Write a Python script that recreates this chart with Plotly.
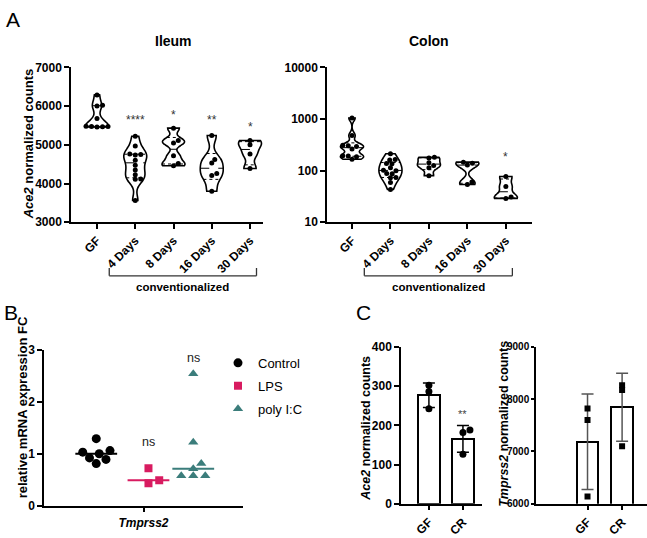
import numpy as np
import plotly.graph_objects as go

# ---------------- data ----------------
groups = ["GF", "4 Days", "8 Days", "16 Days", "30 Days"]

ileum_gf = [6290, 6020, 6000, 5680, 5480, 5475, 5470, 5465, 5460]
ileum_d4 = [5220, 4970, 4760, 4750, 4740, 4600, 4470, 4350, 4230, 4120, 4110, 3560]
ileum_d8 = [5430, 5110, 5050, 4720, 4520, 4460]
ileum_d16 = [5240, 4620, 4530, 4260, 4210, 3800]
ileum_d30 = [5110, 5000, 4760, 4390]
ileum_values = [ileum_gf, ileum_d4, ileum_d8, ileum_d16, ileum_d30]
ileum_bandwidth = [130, 160, 100, 180, 130]
ileum_stars = ["", "****", "*", "**", "*"]
ileum_star_y = [None, 5640, 5760, 5640, 5460]

colon_gf = [1047, 479, 309, 302, 295, 263, 195, 191, 186, 166]
colon_d4 = [212, 165, 161, 138, 136, 114, 102, 100, 88, 87, 74, 73, 59, 43]
colon_d8 = [181, 176, 142, 126, 114, 80]
colon_d16 = [146, 139, 128, 60, 54]
colon_d30 = [77, 49, 31, 29]
colon_values = [colon_gf, colon_d4, colon_d8, colon_d16, colon_d30]
colon_bandwidth = [0.06, 0.12, 0.06, 0.08, 0.08]   # in log10 units
colon_stars = ["", "", "", "", "*"]
colon_star_y = [None, None, None, None, 185]
colon_ticks = [10, 100, 1000, 10000]

b_labels = ["Control", "LPS", "poly I:C"]
b_control = [1.0, 0.81, 1.29, 1.03, 0.89, 1.06, 0.92]
b_lps = [0.72, 0.43, 0.49]
b_polyic = [2.54, 1.22, 0.81, 0.71, 0.575, 0.575, 0.575]
b_values = [b_control, b_lps, b_polyic]
b_ns_text = ["", "ns", "ns"]
b_ns_y = [None, 1.22, 2.84]
b_gene = "Tmprss2"

c_groups = ["GF", "CR"]
c_ace2 = [[302, 286, 242], [188, 182, 126]]
c_tmprss2 = [[7820, 7602, 6137], [8267, 8174, 7099]]
c_ace2_stars = ["", "**"]
c_ace2_star_y = [None, 229]

# ---------------- style / layout ----------------
W, H = 647, 538
FONT = "Liberation Sans, Arial, sans-serif"
B_COLORS = ["#000000", "#d81b60", "#3b7d7b"]
B_SYMBOLS = ["circle", "square", "triangle-up"]
B_SIZES = [9, 8, 9]
B_POS = [-0.95, 0.1, 1.0]
B_MED_HALF = 0.42
VIOLIN_W = 0.6


def px_x(px):
    return px / W


def px_y(py):
    return 1 - py / H


panels = {
    "ileum": dict(n=1, x0=71, x1=263, yt=62, yb=221, xr=[-0.68, 4.34], yr=[3000, 7000]),
    "colon": dict(n=2, x0=327, x1=532, yt=62, yb=221, xr=[-0.65, 4.68], yr=[1, 4]),
    "b": dict(n=3, x0=44, x1=243, yt=352, yb=512, xr=[-2, 2], yr=[0, 3]),
    "ace2": dict(n=4, x0=401, x1=482, yt=349, yb=510, xr=[-0.82, 1.56], yr=[0, 400]),
    "tmp": dict(n=5, x0=536, x1=647, yt=349, yb=510, xr=[-1.49, 1.72], yr=[6000, 9000]),
}
for p in panels.values():
    p["sx"] = (p["x1"] - p["x0"]) / (p["xr"][1] - p["xr"][0])
    p["sy"] = (p["yb"] - p["yt"]) / (p["yr"][1] - p["yr"][0])


def ax_names(p):
    n = p["n"]
    return ("x" if n == 1 else f"x{n}"), ("y" if n == 1 else f"y{n}")


def swarm(vals, p, dx, dy):
    """beeswarm offsets (in x data units) computed in pixel space"""
    vals = np.asarray(vals, float)
    order = np.argsort(vals)
    steps = np.arange(0, 80, 0.25)
    cands = np.column_stack([steps, -steps]).ravel()[1:]
    placed = []
    offs = np.zeros(len(vals))
    for i in order:
        y = vals[i] * p["sy"]
        chosen = 0.0
        for c in cands:
            if all(((c - px) / dx) ** 2 + ((y - py) / dy) ** 2 >= 1 for px, py in placed):
                chosen = c
                break
        offs[i] = chosen
        placed.append((chosen, y))
    return offs / p["sx"]


def kde_halfwidth(vals, bw, width, at):
    v = np.asarray(vals, float)
    lo, hi = v.min(), v.max()
    n = int(np.ceil((hi - lo) / (bw / 3)))
    step = (hi - lo) / n
    t = lo + step * np.arange(n + 1)

    def kde(x):
        x = np.atleast_1d(np.asarray(x, float))
        return np.exp(-0.5 * ((x[:, None] - v[None, :]) / bw) ** 2).sum(1) / (len(v) * bw * np.sqrt(2 * np.pi))

    return kde(at) / kde(t).max() * width / 2


fig = go.Figure()


def add_violins(p, values, bws, transform):
    xa, ya = ax_names(p)
    for i, (vals, bw) in enumerate(zip(values, bws)):
        v = transform(np.asarray(vals, float))
        fig.add_trace(go.Violin(
            x0=i, y=v, xaxis=xa, yaxis=ya, width=VIOLIN_W, bandwidth=bw,
            spanmode="hard", points=False, line=dict(color="black", width=1.6),
            fillcolor="rgba(0,0,0,0)", showlegend=False, hoverinfo="skip",
            box_visible=False, meanline_visible=False))
        qs = np.percentile(v, [25, 50, 75], method="weibull")
        hw = kde_halfwidth(v, bw, VIOLIN_W, qs)
        for q, h, dash in zip(qs, hw, ["dot", "dash", "dot"]):
            fig.add_trace(go.Scatter(
                x=[i - h, i + h], y=[q, q], xaxis=xa, yaxis=ya, mode="lines",
                line=dict(color="black", width=1, dash=dash),
                showlegend=False, hoverinfo="skip"))
        offs = swarm(v, p, 5.5, 4.2)
        fig.add_trace(go.Scatter(
            x=i + offs, y=v, xaxis=xa, yaxis=ya, mode="markers",
            marker=dict(color="black", size=5), showlegend=False, hoverinfo="skip"))


add_violins(panels["ileum"], ileum_values, ileum_bandwidth, lambda a: a)
add_violins(panels["colon"], colon_values, colon_bandwidth, np.log10)

# Panel B
pb = panels["b"]
xa, ya = ax_names(pb)
for i, vals in enumerate(b_values):
    v = np.asarray(vals, float)
    med = np.median(v)
    fig.add_trace(go.Scatter(
        x=[B_POS[i] - B_MED_HALF, B_POS[i] + B_MED_HALF], y=[med, med], xaxis=xa, yaxis=ya,
        mode="lines", line=dict(color=B_COLORS[i], width=2), showlegend=False, hoverinfo="skip"))
for i, vals in enumerate(b_values):
    v = np.asarray(vals, float)
    offs = swarm(v, pb, 12, 7)
    fig.add_trace(go.Scatter(
        x=B_POS[i] + offs, y=v, xaxis=xa, yaxis=ya, mode="markers", name=b_labels[i],
        legendgroup=b_labels[i],
        marker=dict(color=B_COLORS[i], size=B_SIZES[i], symbol=B_SYMBOLS[i]),
        showlegend=True, hoverinfo="skip"))

# Panel C
for key, data, symbol, size, ecol in [("ace2", c_ace2, "circle", 7, "black"),
                                       ("tmp", c_tmprss2, "square", 6, "#555555")]:
    p = panels[key]
    xa, ya = ax_names(p)
    means = [float(np.mean(d)) for d in data]
    sds = [float(np.std(d, ddof=1)) for d in data]
    fig.add_trace(go.Bar(
        x=list(range(len(data))), y=means, xaxis=xa, yaxis=ya, width=0.63,
        marker=dict(color="white", line=dict(color="black", width=2)),
        error_y=dict(type="data", array=sds, color=ecol, thickness=1.5, width=6),
        showlegend=False, hoverinfo="skip"))
    for i, d in enumerate(data):
        offs = swarm(d, p, 8, 4.5)
        fig.add_trace(go.Scatter(
            x=i + offs, y=d, xaxis=xa, yaxis=ya, mode="markers",
            marker=dict(color="black", size=size, symbol=symbol),
            showlegend=False, hoverinfo="skip"))

# ---------------- axes ----------------
axis_common = dict(showline=True, linecolor="black", linewidth=1.5, ticks="outside",
                   ticklen=5, tickwidth=1.5, tickcolor="black", showgrid=False,
                   zeroline=False, fixedrange=True,
                   tickfont=dict(family=FONT, size=12, color="black", weight="bold"))
layout_axes = {}
for key, p in panels.items():
    n = p["n"]
    sfx = "" if n == 1 else str(n)
    xa, ya = ax_names(p)
    xd = dict(axis_common, domain=[px_x(p["x0"]), px_x(p["x1"])], range=p["xr"],
              anchor=ya, type="linear")
    yd = dict(axis_common, domain=[px_y(p["yb"]), px_y(p["yt"])], range=p["yr"],
              anchor=xa, type="linear")
    layout_axes["xaxis" + sfx] = xd
    layout_axes["yaxis" + sfx] = yd

for key in ["xaxis", "xaxis2"]:
    layout_axes[key].update(tickvals=list(range(len(groups))), ticktext=groups, tickangle=-45)
layout_axes["yaxis"].update(tickvals=[3000, 4000, 5000, 6000, 7000])
layout_axes["yaxis2"].update(tickvals=list(np.log10(colon_ticks)), ticktext=[str(t) for t in colon_ticks])
layout_axes["xaxis3"].update(tickvals=[0], ticktext=[f"<i>{b_gene}</i>"])
layout_axes["yaxis3"].update(tickvals=[0, 1, 2, 3])
for key in ["xaxis4", "xaxis5"]:
    layout_axes[key].update(tickvals=[0, 1], ticktext=c_groups, tickangle=-45)
layout_axes["yaxis4"].update(tickvals=[0, 100, 200, 300, 400])
layout_axes["yaxis5"].update(tickvals=[6000, 7000, 8000, 9000], ticklen=3,
                             tickfont=dict(family=FONT, size=10, color="black", weight="bold"))

# ---------------- annotations & shapes ----------------
ann = []
shapes = []


def text(x, y, s, size, xref="paper", yref="paper", bold=False, angle=0, color="black",
         xanchor="center", yanchor="middle"):
    ann.append(dict(x=x, y=y, xref=xref, yref=yref, text=s, showarrow=False, textangle=angle,
                    xanchor=xanchor, yanchor=yanchor,
                    font=dict(family=FONT, size=size, color=color,
                              weight="bold" if bold else "normal")))


text(px_x(4), px_y(13), "A", 21, xanchor="left")
text(px_x(2), px_y(314), "B", 21, xanchor="left")
text(px_x(354), px_y(314), "C", 21, xanchor="left")

text(2, px_y(35), "Ileum", 14, xref="x", bold=True)
text(2, px_y(35), "Colon", 14, xref="x2", bold=True)

text(px_x(28), px_y(141), "<i>Ace2</i> normalized counts", 13, bold=True, angle=-90)
text(px_x(22), px_y(411), "relative mRNA expression FC", 13, bold=True, angle=-90)
text(px_x(366), px_y(433), "<i>Ace2</i> normalized counts", 12.5, bold=True, angle=-90)
text(px_x(504), px_y(428), "<i>Tmprss2</i> normalized counts", 12.5, bold=True, angle=-90)

for i, (s, y) in enumerate(zip(ileum_stars, ileum_star_y)):
    if s:
        text(i, y, s, 12, xref="x", yref="y", color="#333333")
for i, (s, y) in enumerate(zip(colon_stars, colon_star_y)):
    if s:
        text(i, np.log10(y), s, 12, xref="x2", yref="y2", color="#333333")
for i, (s, y) in enumerate(zip(b_ns_text, b_ns_y)):
    if s:
        text(B_POS[i], y, s, 12.5, xref="x3", yref="y3", color="#222222")
for i, (s, y) in enumerate(zip(c_ace2_stars, c_ace2_star_y)):
    if s:
        text(i, y, s, 11, xref="x4", yref="y4", color="#444444")

# conventionalized brackets
for xref in ["x", "x2"]:
    lo, hi = 1 - 0.68, 4 + 0.17
    yb, yt = px_y(276), px_y(268)
    for (xa0, ya0, xa1, ya1) in [(lo, yb, hi, yb), (lo, yb, lo, yt), (hi, yb, hi, yt)]:
        shapes.append(dict(type="line", xref=xref, yref="paper", x0=xa0, y0=ya0, x1=xa1, y1=ya1,
                           line=dict(color="#333333", width=1.3)))
    text((lo + hi) / 2, px_y(287), "conventionalized", 11.5, xref=xref, bold=True)

fig.update_layout(
    width=W, height=H, margin=dict(l=0, r=0, t=0, b=0),
    paper_bgcolor="white", plot_bgcolor="white",
    font=dict(family=FONT, color="black"),
    annotations=ann, shapes=shapes,
    legend=dict(x=px_x(218), y=px_y(350), xanchor="left", yanchor="top",
                font=dict(family=FONT, size=13, color="black"), bgcolor="rgba(0,0,0,0)",
                tracegroupgap=3),
    violinmode="overlay", bargap=0,
    **layout_axes,
)

# remove the default page margin so the 647x538 figure fills the window exactly
post = ("document.documentElement.style.margin='0';document.documentElement.style.padding='0';"
        "document.body.style.margin='0';document.body.style.padding='0';"
        "document.body.style.overflow='hidden';document.documentElement.style.overflow='hidden';")

fig.write_html("out.html", config={"displayModeBar": False}, post_script=post)
